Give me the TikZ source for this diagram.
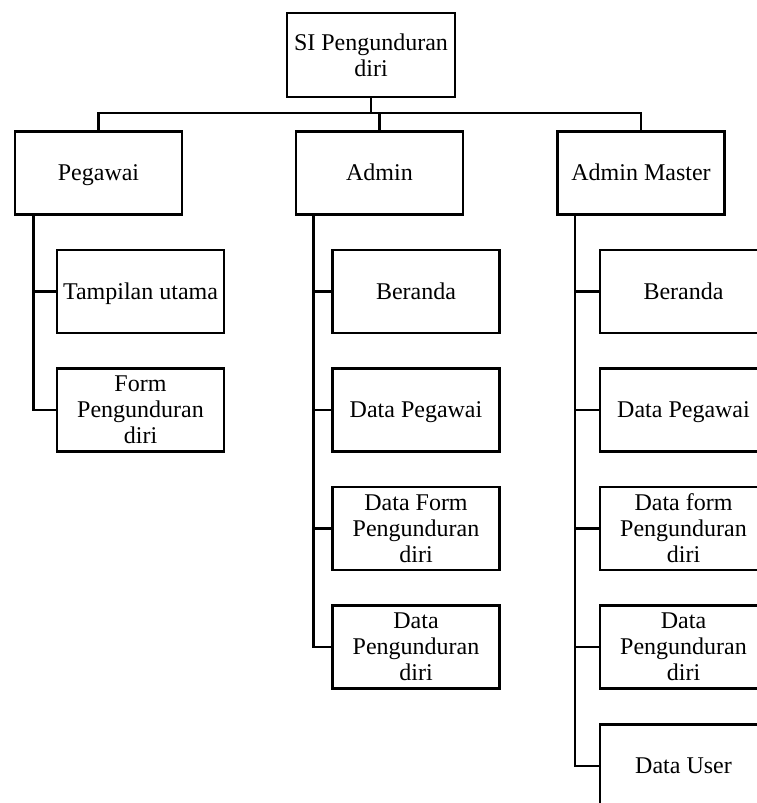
\documentclass[tikz,border=0pt]{standalone}
\usepackage{fontspec}
\setmainfont{Liberation Serif}
\begin{document}
\begin{tikzpicture}[x=1pt,y=-1pt,
  box/.style={draw,line width=2.8pt,minimum width=167pt,minimum height=83pt,
    inner sep=0pt,align=center,font=\fontsize{24}{26}\selectfont},
  single/.style={box,text height=17pt,text depth=1.4pt},
  link/.style={line width=2.8pt}]
\clip (0,0) rectangle (757,803);
\useasboundingbox (0,0) rectangle (757,803);
% top
\node[box,minimum width=168pt,minimum height=84pt] (root) at (371,55) {SI Pengunduran\\diri};
% level 1
\node[single] (peg) at (98.5,173) {Pegawai};
\node[single] (adm) at (379.5,173) {Admin};
\node[single] (am)  at (641,173) {Admin Master};
% Pegawai children
\node[single] (p1) at (140.5,291.5) {Tampilan utama};
\node[box] (p2) at (140.5,410) {Form\\Pengunduran\\diri};
% Admin children
\node[single] (a1) at (416,291.5) {Beranda};
\node[single] (a2) at (416,410) {Data Pegawai};
\node[box] (a3) at (416,528.5) {Data Form\\Pengunduran\\diri};
\node[box] (a4) at (416,647) {Data\\Pengunduran\\diri};
% Admin Master children
\node[single] (m1) at (683.5,291.5) {Beranda};
\node[single] (m2) at (683.5,410) {Data Pegawai};
\node[box] (m3) at (683.5,528.5) {Data form\\Pengunduran\\diri};
\node[box] (m4) at (683.5,647) {Data\\Pengunduran\\diri};
\node[single] (m5) at (683.5,766) {Data User};
% bus from the root to level 1
\coordinate (bus) at (371,113);
\draw[link] (root.south) -- (root.south |- bus);
\draw[link] (peg.north) -- (peg.north |- bus) -- (am.north |- bus) -- (am.north);
\draw[link] (adm.north) -- (adm.north |- bus);
% side trunks
\coordinate (tp) at ([xshift=-65pt]peg.south);
\coordinate (ta) at ([xshift=-66pt]adm.south);
\coordinate (tm) at ([xshift=-66pt]am.south);
\draw[link] (tp) |- (p2.west);
\draw[link] (tp |- p1.west) -- (p1.west);
\draw[link] (ta) |- (a4.west);
\foreach \c in {a1,a2,a3} \draw[link] (ta |- \c.west) -- (\c.west);
\draw[link] (tm) |- (m5.west);
\foreach \c in {m1,m2,m3,m4} \draw[link] (tm |- \c.west) -- (\c.west);
\end{tikzpicture}
\end{document}
